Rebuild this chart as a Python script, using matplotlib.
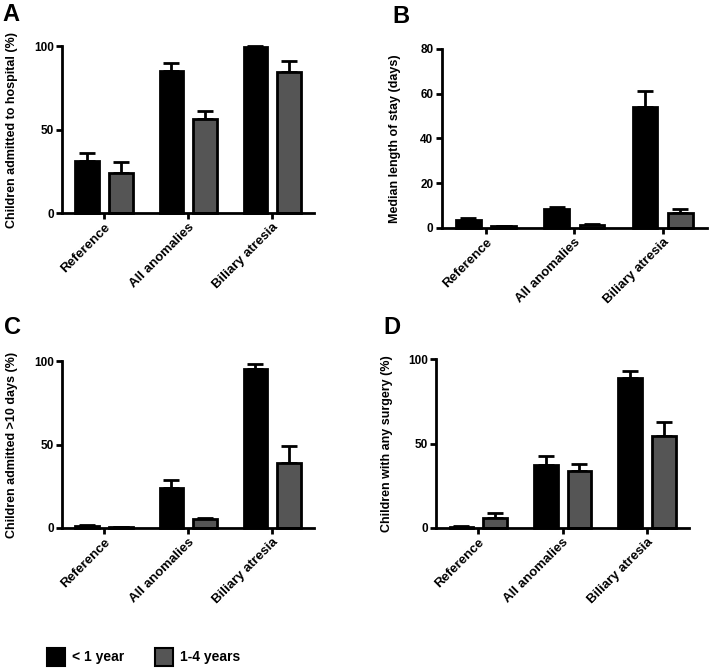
import numpy as np
import matplotlib
matplotlib.use('Agg')
import matplotlib.pyplot as plt
from matplotlib.patches import Patch

plt.rcParams['font.family'] = ['Liberation Sans', 'DejaVu Sans']
plt.rcParams['font.weight'] = 'bold'

categories = ['Reference', 'All anomalies', 'Biliary atresia']
groups = ['< 1 year', '1-4 years']

# panel A: children admitted to hospital (%)
a_lt1 = [31, 85, 99.6]
a_lt1_err = [5, 4.8, 0.3]
a_1to4 = [24.2, 56.2, 84.4]
a_1to4_err = [6.2, 4.8, 6.8]

# panel B: median length of stay (days)
b_lt1 = [3.7, 8.5, 54.1]
b_lt1_err = [0.6, 0.8, 6.9]
b_1to4 = [0.8, 1.4, 6.7]
b_1to4_err = [0.1, 0.2, 1.8]

# panel C: children admitted >10 days (%)
c_lt1 = [1.2, 24, 95]
c_lt1_err = [0.3, 4.6, 3]
c_1to4 = [0.6, 5.4, 39.2]
c_1to4_err = [0.2, 0.6, 10]

# panel D: children with any surgery (%)
d_lt1 = [0.8, 37, 89.1]
d_lt1_err = [0.2, 5.8, 3.8]
d_1to4 = [6.1, 34, 54.3]
d_1to4_err = [2.8, 3.8, 8.5]

panels = [
    ('A', 'Children admitted to hospital (%)', a_lt1, a_lt1_err, a_1to4, a_1to4_err, [0, 50, 100], 100,
     [0.0874, 0.682, 0.356, 0.249], (0.004, 0.995), 0.025),
    ('B', 'Median length of stay (days)', b_lt1, b_lt1_err, b_1to4, b_1to4_err, [0, 20, 40, 60, 80], 80,
     [0.623, 0.660, 0.374, 0.267], (0.553, 0.993), 0.565),
    ('C', 'Children admitted >10 days (%)', c_lt1, c_lt1_err, c_1to4, c_1to4_err, [0, 50, 100], 100,
     [0.0874, 0.212, 0.356, 0.249], (0.006, 0.528), 0.025),
    ('D', 'Children with any surgery (%)', d_lt1, d_lt1_err, d_1to4, d_1to4_err, [0, 50, 100], 100,
     [0.615, 0.212, 0.357, 0.252], (0.541, 0.528), 0.554),
]

black = '#000000'
grey = '#555555'
width = 0.28
x = np.arange(len(categories))

fig = plt.figure(figsize=(7.09, 6.7), dpi=100)

for letter, ylabel, v1, e1, v2, e2, yticks, ymax, rect, lpos, ylx in panels:
    ax = fig.add_axes(rect)
    for xs, vals, errs, col in [(x - 0.2, v1, e1, black), (x + 0.2, v2, e2, grey)]:
        ax.errorbar(xs, vals, yerr=[np.zeros(len(errs)), errs], fmt='none',
                    ecolor='black', elinewidth=2, capsize=6, capthick=2, zorder=1, clip_on=False)
        ax.bar(xs, vals, width=width, color=col, edgecolor='black', linewidth=2, zorder=2, clip_on=False)
    ax.set_xlim(-0.5, 2.5)
    ax.set_ylim(0, ymax)
    ax.set_yticks(yticks)
    ax.set_xticks(x)
    ax.set_xticklabels(categories, rotation=45, ha='right', rotation_mode='anchor',
                       fontsize=9.5, fontweight='bold')
    for lab in ax.get_yticklabels():
        lab.set_fontsize(8.5)
        lab.set_fontweight('bold')
    ax.spines['top'].set_visible(False)
    ax.spines['right'].set_visible(False)
    ax.spines['left'].set_linewidth(2)
    ax.spines['bottom'].set_linewidth(2)
    ax.tick_params(width=2, length=4, pad=2)
    ax.set_ylabel(ylabel, fontsize=9, fontweight='bold')
    ax.yaxis.set_label_coords(ylx, rect[1] + rect[3] / 2, transform=fig.transFigure)
    fig.text(lpos[0], lpos[1], letter, fontsize=17, fontweight='bold', va='top', ha='left')

handles = [Patch(facecolor=black, edgecolor='black', linewidth=1.5),
           Patch(facecolor=grey, edgecolor='black', linewidth=1.5)]
fig.legend(handles, groups, loc='lower left', bbox_to_anchor=(0.049, -0.012), ncol=2, frameon=False,
           handlelength=1.3, handleheight=1.6, columnspacing=2.2, handletextpad=0.5,
           prop={'size': 10, 'weight': 'bold'})

fig.savefig('out.png', dpi=100)
